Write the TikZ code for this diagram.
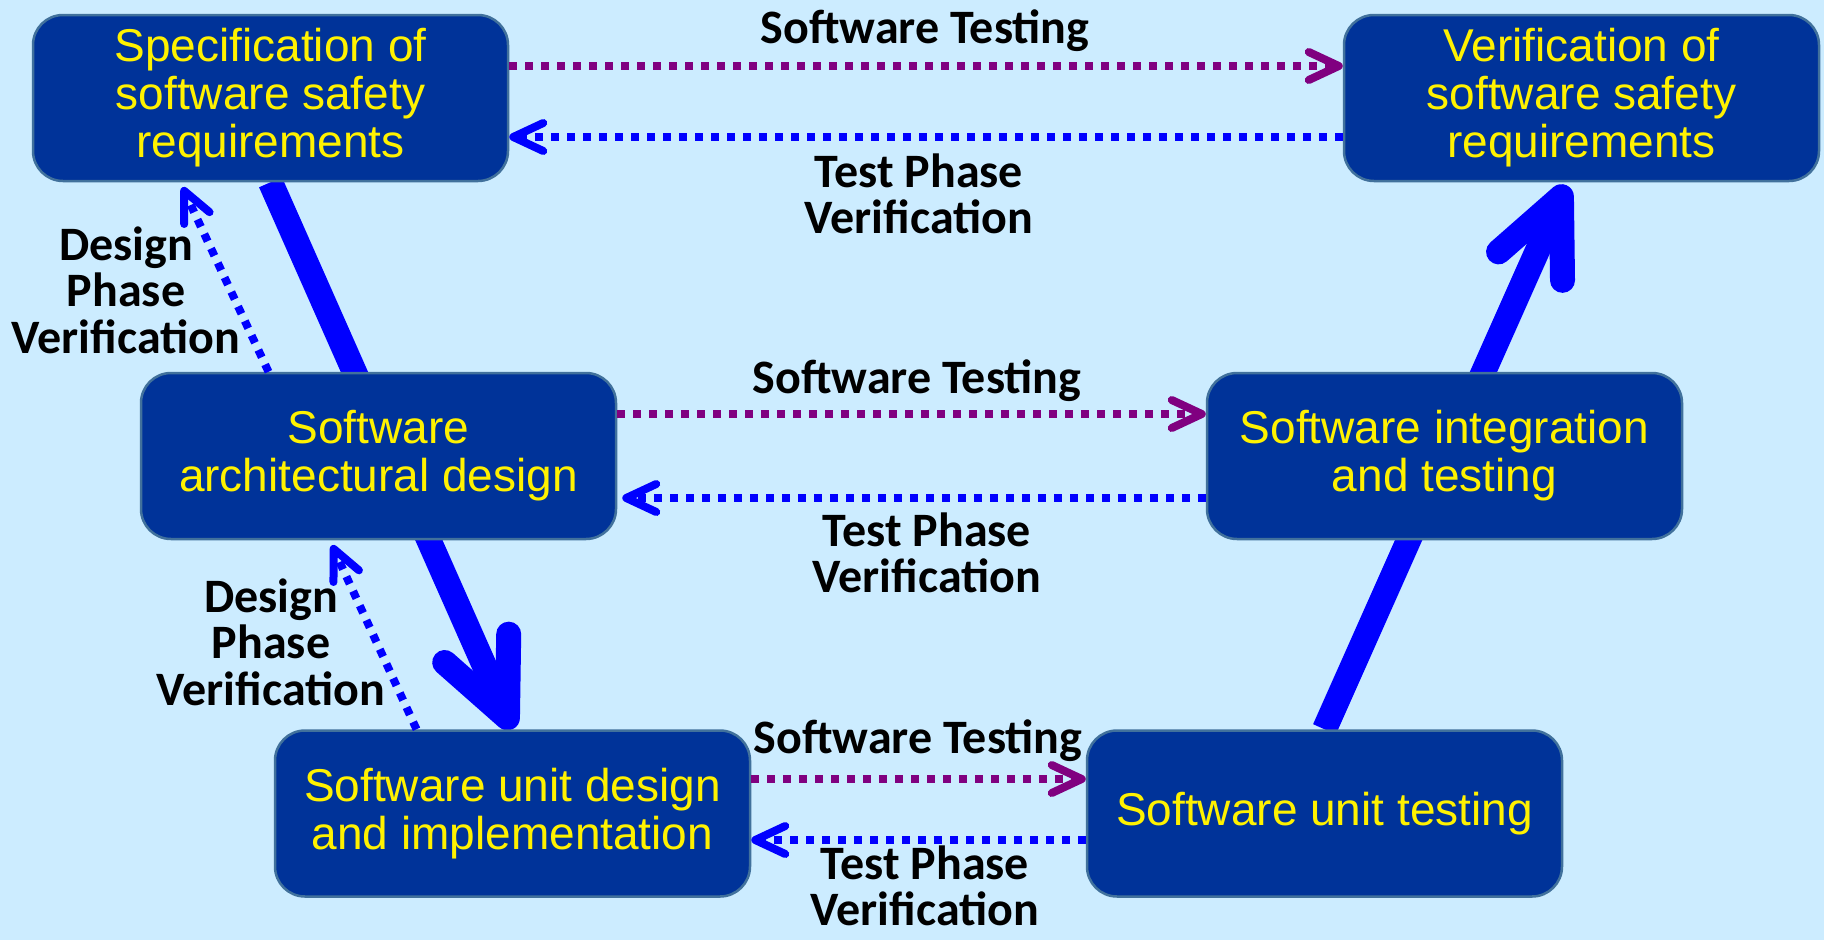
\documentclass[tikz,border=0pt]{standalone}
\usepackage{fontspec}
\setmainfont{Liberation Sans}
\newfontfamily\lblfont{Carlito}
\usetikzlibrary{arrows.meta,calc}

\definecolor{bgblue}{HTML}{CCECFF}
\definecolor{boxfill}{HTML}{003399}
\definecolor{boxline}{HTML}{41719C}
\definecolor{testpurple}{HTML}{800080}
\definecolor{verblue}{HTML}{0000FF}

\pgfdeclarelayer{back}
\pgfsetlayers{back,main}

\tikzset{
  phasebox/.style={draw=boxline, line width=2.5pt, fill=boxfill,
    rounded corners=30pt, minimum width=475pt, minimum height=166pt,
    text=yellow, align=center, inner sep=0pt,
    font=\fontsize{46pt}{48pt}\selectfont},
  lbl/.style={font=\lblfont\bfseries\fontsize{48pt}{46.5pt}\selectfont,
    align=center, inner sep=0pt, text=black},
  thintip/.style={-{Straight Barb[length=30pt,width=28pt,round]}},
  testflow/.style={draw=testpurple, line width=8pt,
    dash pattern=on 8pt off 8pt, thintip},
  verflow/.style={draw=verblue, line width=8pt,
    dash pattern=on 8pt off 8pt, thintip},
  mainflow/.style={draw=verblue, line width=25pt,
    -{Straight Barb[length=76pt,width=70pt,round]}},
}

\begin{document}
\begin{tikzpicture}[x=1pt,y=-1pt]
\begin{pgfonlayer}{back}
  \fill[bgblue] (0,0) rectangle (1824,940);
\end{pgfonlayer}
\useasboundingbox (0,0) rectangle (1824,940);

% lifecycle phases
\node[phasebox] (spec)     at (270.5,98)   {Specification of\\software safety\\requirements};
\node[phasebox] (verif)    at (1581.5,98)  {Verification of\\software safety\\requirements};
\node[phasebox] (arch)     at (378.5,456)  {Software\\architectural design};
\node[phasebox] (integ)    at (1444.5,456) {Software integration\\and testing};
\node[phasebox] (unitdes)  at (512.5,813.5)  {Software unit design\\and implementation};
\node[phasebox] (unittest) at (1324.5,813.5) {Software unit testing};

% main V flow, running behind the middle boxes
\begin{pgfonlayer}{back}
  \draw[mainflow] (spec.south) -- (unitdes.north);
  \draw[mainflow] (unittest.north) -- ([xshift=-15pt,yshift=-3pt]verif.south);
\end{pgfonlayer}

% testing / verification links
\draw[testflow] ([yshift=32pt]spec.east) -- ([yshift=32pt]verif.west);
\draw[verflow]  ([yshift=-39pt]verif.west) -- ([yshift=-39pt]spec.east);
\draw[testflow] ([yshift=42pt]arch.east) -- ([yshift=42pt]integ.west);
\draw[verflow]  ([yshift=-42pt]integ.west) -- ([xshift=5pt,yshift=-42pt]arch.east);
\draw[testflow] ([yshift=34.5pt]unitdes.east) -- ([yshift=34.5pt]unittest.west);
\draw[verflow]  ([yshift=-26.5pt]unittest.west) -- ([yshift=-26.5pt]unitdes.east);

% design phase verification
\draw[verflow] ([xshift=-110pt]arch.north) -- ([xshift=-88pt,yshift=-5pt]spec.south);
\draw[verflow] ([xshift=-96pt]unitdes.north) -- ([xshift=-46.5pt,yshift=-5pt]arch.south);

% labels
\node[lbl, anchor=base] (st1) at (925,43)  {Software Testing};
\node[lbl] (tv1) at (919,194) {Test Phase\\Verification};
\node[lbl, anchor=base] (st2) at (917,393) {Software Testing};
\node[lbl] (tv2) at (927,553) {Test Phase\\Verification};
\node[lbl, anchor=base] (st3) at (918,753) {Software Testing};
\node[lbl] (tv3) at (925,886) {Test Phase\\Verification};
\node[lbl] (dp1) at (126,290) {Design\\Phase\\Verification};
\node[lbl] (dp2) at (271,642) {Design\\Phase\\Verification};
\end{tikzpicture}
\end{document}
